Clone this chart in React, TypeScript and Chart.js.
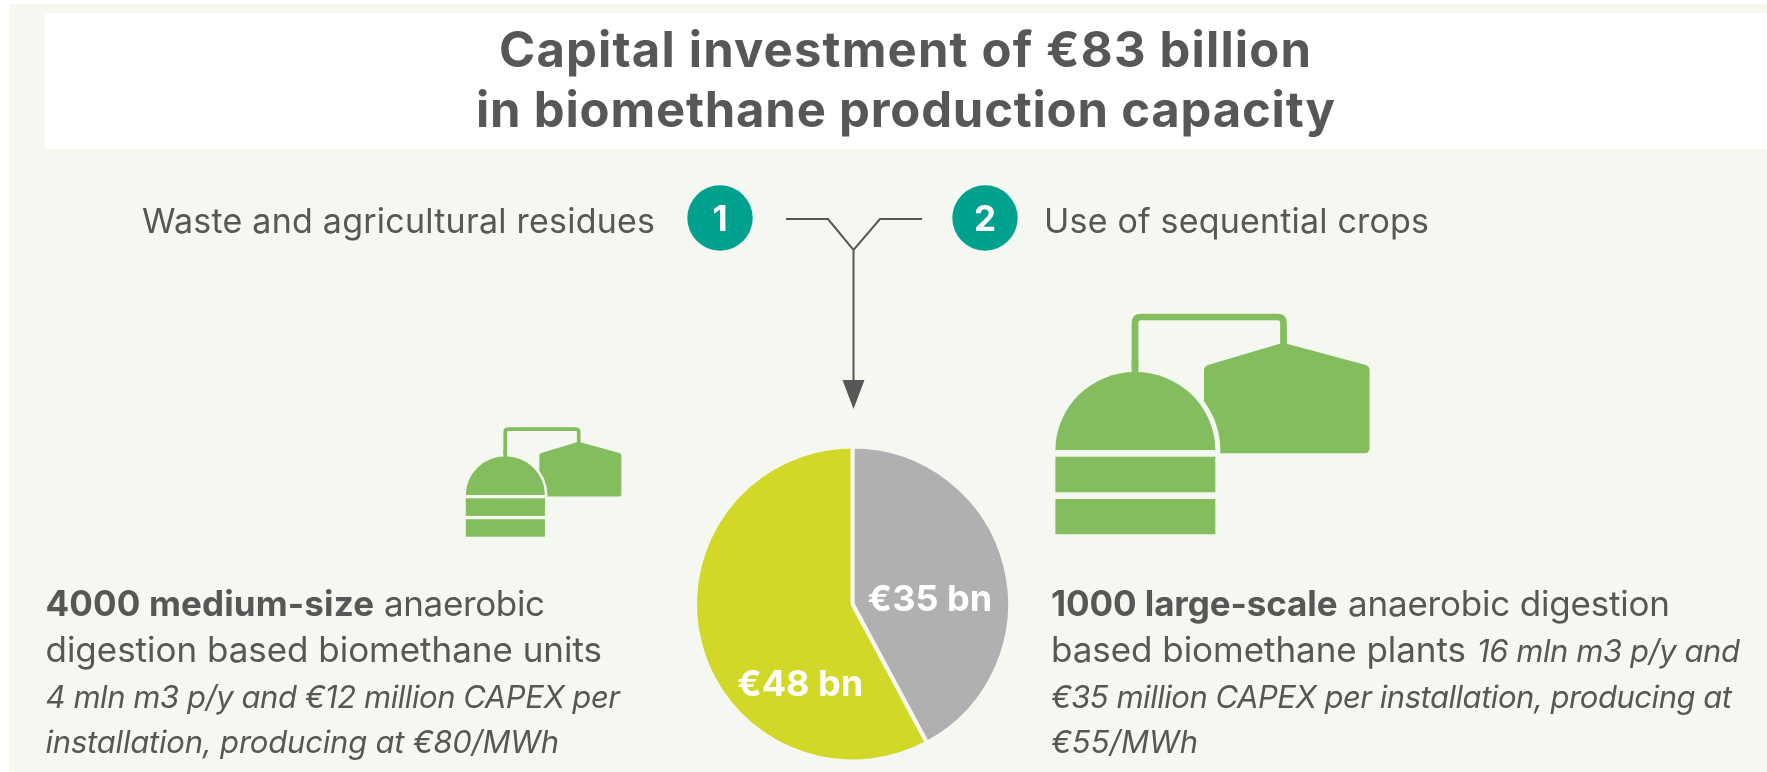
import React, { useEffect, useRef } from "react";
import { Chart, registerables } from "chart.js";

Chart.register(...registerables);

const categories = ["Large-scale plants", "Medium-size units"];
const values = [35, 48];
const sliceLabels = ["€35 bn", "€48 bn"];
const sliceColors = ["#b0b0b0", "#d2d828"];
const titleLines = ["Capital investment of €83 billion", "in biomethane production capacity"];
const sourceLeft = "Waste and agricultural residues";
const sourceRight = "Use of sequential crops";
const badges = ["1", "2"];
const leftBlock = [
  ["4000 medium-size", "anaerobic"],
  ["digestion based biomethane units"],
  ["4 mln m3 p/y and €12 million CAPEX per"],
  ["installation, producing at €80/MWh"],
];
const rightBlock = [
  ["1000 large-scale", "anaerobic digestion"],
  ["based biomethane plants", "16 mln m3 p/y and"],
  ["€35 million CAPEX per installation, producing at"],
  ["€55/MWh"],
];

const BG = "#f5f8f1";
const INK = "#575757";
const GREEN = "#84bd5e";
const TEAL = "#00a28f";
const FAMILY = "Inter, 'Noto Sans', sans-serif";

function run(ctx: any, text: string, x: number, y: number, endX: number, font: string, color: string) {
  ctx.save();
  ctx.font = font;
  ctx.fillStyle = color;
  ctx.textAlign = "left";
  ctx.textBaseline = "alphabetic";
  ctx.letterSpacing = "0px";
  const w = ctx.measureText(text).width;
  ctx.letterSpacing = ((endX - x - w) / Math.max(1, text.length - 1)).toFixed(3) + "px";
  ctx.fillText(text, x, y);
  ctx.restore();
}

function drawIcon(ctx: any, ox: number, oy: number, sx: number, sy: number) {
  const X = (v: number) => ox + (v - 1055.4) * sx;
  const Y = (v: number) => oy + (v - 534.3) * sy;
  const round = 6;
  ctx.save();
  ctx.fillStyle = GREEN;
  ctx.strokeStyle = GREEN;
  // right tank
  ctx.beginPath();
  ctx.lineJoin = "round";
  ctx.moveTo(X(1283), Y(342.7));
  ctx.lineTo(X(1366), Y(365));
  ctx.quadraticCurveTo(X(1369.6), Y(366.5), X(1369.6), Y(370));
  ctx.lineTo(X(1369.6), Y(448));
  ctx.quadraticCurveTo(X(1369.6), Y(453.3), X(1364), Y(453.3));
  ctx.lineTo(X(1204), Y(453.3));
  ctx.lineTo(X(1204), Y(370));
  ctx.quadraticCurveTo(X(1204), Y(366.5), X(1208), Y(365));
  ctx.closePath();
  ctx.fill();
  // pipe
  ctx.beginPath();
  ctx.lineWidth = 6 * sx + 0.7;
  ctx.moveTo(X(1135), Y(375));
  ctx.lineTo(X(1135), Y(317 + round));
  ctx.quadraticCurveTo(X(1135), Y(317), X(1135 + round), Y(317));
  ctx.lineTo(X(1283.5 - round), Y(317));
  ctx.quadraticCurveTo(X(1283.5), Y(317), X(1283.5), Y(317 + round));
  ctx.lineTo(X(1283.5), Y(345));
  ctx.stroke();
  // dome, with a gap cut out of the tank behind it
  const cx = X(1135.35);
  const cy = Y(450);
  const rx = 79.95 * sx;
  const ry = 78 * sy;
  ctx.beginPath();
  ctx.ellipse(cx, cy, rx + 5 * sx, ry + 5 * sy, 0, Math.PI, 0);
  ctx.lineTo(cx + rx + 5 * sx, Y(456));
  ctx.lineTo(cx - rx - 5 * sx, Y(456));
  ctx.closePath();
  ctx.fillStyle = BG;
  ctx.fill();
  // the pipe sits on the dome, so it is redrawn over the cut
  ctx.beginPath();
  ctx.moveTo(X(1135), Y(375));
  ctx.lineTo(X(1135), Y(360));
  ctx.stroke();
  ctx.beginPath();
  ctx.ellipse(cx, cy, rx, ry, 0, Math.PI, 0);
  ctx.closePath();
  ctx.fillStyle = GREEN;
  ctx.fill();
  // bands
  ctx.fillRect(X(1055.4), Y(456.7), X(1215.3) - X(1055.4), Y(492.3) - Y(456.7));
  ctx.fillRect(X(1055.4), Y(499), X(1215.3) - X(1055.4), Y(534.3) - Y(499));
  ctx.restore();
}

const backdrop = {
  id: "backdrop",
  beforeDraw(chart: any) {
    const ctx = chart.ctx;
    ctx.save();
    ctx.fillStyle = "#ffffff";
    ctx.fillRect(0, 0, chart.width, chart.height);
    ctx.fillStyle = BG;
    ctx.fillRect(9, 4, chart.width - 9, chart.height - 4);
    ctx.fillStyle = "#ffffff";
    ctx.fillRect(45, 13, chart.width - 45, 136);

    run(ctx, titleLines[0], 499, 67, 1311, `700 49px ${FAMILY}`, INK);
    run(ctx, titleLines[1], 476, 127, 1335, `700 49px ${FAMILY}`, INK);

    run(ctx, sourceLeft, 142, 233, 655, `400 34px ${FAMILY}`, INK);
    run(ctx, sourceRight, 1044, 233, 1429, `400 34px ${FAMILY}`, INK);

    for (const [cx, label] of [[720, badges[0]], [985, badges[1]]] as any) {
      ctx.fillStyle = TEAL;
      ctx.beginPath();
      ctx.arc(cx, 218, 32.7, 0, Math.PI * 2);
      ctx.fill();
      ctx.fillStyle = "#ffffff";
      ctx.font = `700 35px ${FAMILY}`;
      ctx.textAlign = "center";
      ctx.textBaseline = "alphabetic";
      ctx.fillText(label, cx, 231);
    }

    // converging connector and arrow
    ctx.strokeStyle = INK;
    ctx.lineWidth = 2;
    ctx.lineJoin = "miter";
    ctx.beginPath();
    ctx.moveTo(786, 219);
    ctx.lineTo(828, 219);
    ctx.lineTo(853.5, 250);
    ctx.lineTo(880, 219);
    ctx.lineTo(922, 219);
    ctx.moveTo(853.5, 250);
    ctx.lineTo(853.5, 385);
    ctx.stroke();
    ctx.fillStyle = INK;
    ctx.beginPath();
    ctx.moveTo(842.5, 380);
    ctx.lineTo(864.5, 380);
    ctx.lineTo(853.5, 409);
    ctx.closePath();
    ctx.fill();

    drawIcon(ctx, 1055.4, 534.3, 1, 1);
    drawIcon(ctx, 465.8, 536.7, 0.495, 0.495);

    const bold = `700 35px ${FAMILY}`;
    const reg = `400 35px ${FAMILY}`;
    const ital = `italic 400 31px ${FAMILY}`;
    run(ctx, leftBlock[0][0], 45.5, 616, 374, bold, INK);
    run(ctx, leftBlock[0][1], 384, 616, 545, reg, INK);
    run(ctx, leftBlock[1][0], 45.5, 662, 602, reg, INK);
    run(ctx, leftBlock[2][0], 45.5, 707.5, 620, ital, INK);
    run(ctx, leftBlock[3][0], 45.5, 753, 559, ital, INK);

    run(ctx, rightBlock[0][0], 1051, 616, 1337.6, bold, INK);
    run(ctx, rightBlock[0][1], 1348, 616, 1670, reg, INK);
    run(ctx, rightBlock[1][0], 1051, 662, 1466, reg, INK);
    run(ctx, rightBlock[1][1], 1477, 662, 1740, ital, INK);
    run(ctx, rightBlock[2][0], 1051, 708, 1732, ital, INK);
    run(ctx, rightBlock[3][0], 1051, 753, 1198, ital, INK);
    ctx.restore();
  },
};

const sliceText = {
  id: "sliceText",
  afterDatasetsDraw(chart: any) {
    const ctx = chart.ctx;
    const offsets = [[1, 15], [24, 62]];
    chart.getDatasetMeta(0).data.forEach((arc: any, i: number) => {
      const p = arc.getCenterPoint();
      ctx.save();
      ctx.font = `700 36px ${FAMILY}`;
      ctx.fillStyle = "#ffffff";
      ctx.textAlign = "center";
      ctx.textBaseline = "middle";
      ctx.fillText(sliceLabels[i], p.x + offsets[i][0], p.y + offsets[i][1]);
      ctx.restore();
    });
  },
};

export default function App() {
  const ref = useRef<HTMLCanvasElement | null>(null);
  useEffect(() => {
    document.body.style.margin = "0";
    const chart = new Chart(ref.current as HTMLCanvasElement, {
      type: "pie",
      data: {
        labels: categories,
        datasets: [
          {
            data: values,
            backgroundColor: sliceColors,
            borderColor: BG,
            borderWidth: 4,
            hoverOffset: 0,
          },
        ],
      },
      options: {
        responsive: false,
        animation: false,
        layout: { padding: { left: 693, right: 755, top: 444, bottom: 8 } },
        plugins: { legend: { display: false }, title: { display: false }, tooltip: { enabled: false } },
      },
      plugins: [backdrop, sliceText],
    } as any);
    return () => chart.destroy();
  }, []);
  return <canvas ref={ref} width={1767} height={772} style={{ position: "absolute", left: 0, top: 0, display: "block" }} />;
}
